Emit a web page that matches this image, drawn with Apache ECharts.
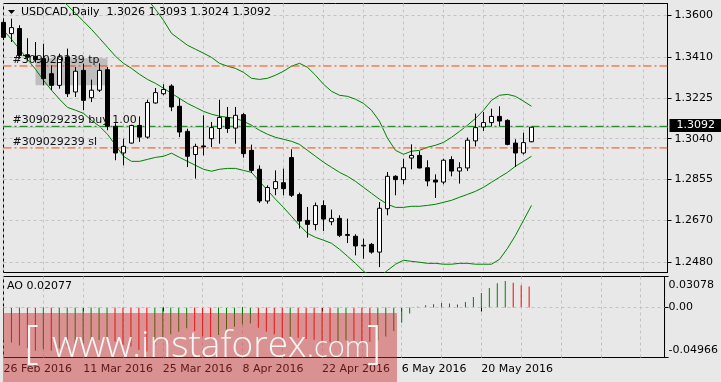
<!DOCTYPE html>
<html><head><meta charset="utf-8">
<script src="https://cdn.jsdelivr.net/npm/echarts@6/dist/echarts.min.js"></script>
<style>html,body{margin:0;padding:0;background:#e8e8e8;}#c{width:721px;height:382px;}</style>
</head><body><div id="c"></div>
<script>
const symbol = 'USDCAD', timeframe = 'Daily';
const dates = ['26 Feb 2016','29 Feb 2016','1 Mar 2016','2 Mar 2016','3 Mar 2016','4 Mar 2016','7 Mar 2016','8 Mar 2016','9 Mar 2016','10 Mar 2016',
'11 Mar 2016','14 Mar 2016','15 Mar 2016','16 Mar 2016','17 Mar 2016','18 Mar 2016','21 Mar 2016','22 Mar 2016','23 Mar 2016','24 Mar 2016',
'25 Mar 2016','28 Mar 2016','29 Mar 2016','30 Mar 2016','31 Mar 2016','1 Apr 2016','4 Apr 2016','5 Apr 2016','6 Apr 2016','7 Apr 2016',
'8 Apr 2016','11 Apr 2016','12 Apr 2016','13 Apr 2016','14 Apr 2016','15 Apr 2016','18 Apr 2016','19 Apr 2016','20 Apr 2016','21 Apr 2016',
'22 Apr 2016','25 Apr 2016','26 Apr 2016','27 Apr 2016','28 Apr 2016','29 Apr 2016','2 May 2016','3 May 2016','4 May 2016','5 May 2016',
'6 May 2016','9 May 2016','10 May 2016','11 May 2016','12 May 2016','13 May 2016','16 May 2016','17 May 2016','18 May 2016','19 May 2016',
'20 May 2016','23 May 2016','24 May 2016','25 May 2016','26 May 2016','27 May 2016','30 May 2016'];
// [open, close, low, high]
const candles = [
[1.3568,1.3500,1.3488,1.3585],[1.3517,1.3544,1.3479,1.3585],[1.3540,1.3418,1.3403,1.3555],[1.3421,1.3410,1.3396,1.3496],[1.3414,1.3399,1.3385,1.3479],
[1.3403,1.3313,1.3282,1.3471],[1.3335,1.3282,1.3260,1.3373],[1.3282,1.3411,1.3267,1.3426],[1.3411,1.3244,1.3229,1.3449],[1.3252,1.3346,1.3229,1.3365],
[1.3350,1.3214,1.3169,1.3381],[1.3226,1.3260,1.3206,1.3308],[1.3260,1.3350,1.3252,1.3382],[1.3353,1.3096,1.3078,1.3365],[1.3096,1.2975,1.2942,1.3110],
[1.2975,1.3005,1.2919,1.3040],[1.3020,1.3100,1.3018,1.3103],[1.3100,1.3047,1.3025,1.3141],[1.3047,1.3204,1.3040,1.3217],[1.3202,1.3249,1.3199,1.3270],
[1.3244,1.3263,1.3237,1.3287],[1.3279,1.3184,1.3165,1.3287],[1.3187,1.3070,1.3047,1.3222],[1.3073,1.2960,1.2911,1.3085],[1.2968,1.3005,1.2859,1.3017],
[1.3007,1.3003,1.2964,1.3146],[1.3040,1.3090,1.3002,1.3116],[1.3086,1.3136,1.3017,1.3217],[1.3136,1.3086,1.3066,1.3184],[1.3088,1.3146,1.3017,1.3184],
[1.3149,1.2972,1.2954,1.3156],[1.2987,1.2896,1.2884,1.3013],[1.2901,1.2757,1.2748,1.2919],[1.2757,1.2818,1.2745,1.2828],[1.2813,1.2845,1.2783,1.2896],
[1.2840,1.2813,1.2783,1.2904],[1.2954,1.2783,1.2775,1.2992],[1.2786,1.2666,1.2632,1.2795],[1.2669,1.2651,1.2591,1.2730],[1.2650,1.2736,1.2624,1.2750],
[1.2736,1.2675,1.2621,1.2760],[1.2663,1.2678,1.2647,1.2718],[1.2678,1.2601,1.2593,1.2692],[1.2605,1.2601,1.2566,1.2677],[1.2597,1.2553,1.2510,1.2606],
[1.2553,1.2556,1.2495,1.2586],[1.2560,1.2525,1.2518,1.2566],[1.2525,1.2724,1.2457,1.2752],[1.2722,1.2869,1.2692,1.2889],[1.2869,1.2854,1.2783,1.2874],
[1.2854,1.2908,1.2833,1.2949],[1.2952,1.2964,1.2901,1.3014],[1.2964,1.2907,1.2905,1.2983],[1.2908,1.2848,1.2824,1.2942],[1.2852,1.2843,1.2771,1.2878],
[1.2843,1.2942,1.2833,1.2949],[1.2945,1.2893,1.2869,1.2960],[1.2893,1.2908,1.2836,1.2933],[1.2907,1.3033,1.2893,1.3045],[1.3030,1.3090,1.3005,1.3154],
[1.3093,1.3113,1.3075,1.3161],[1.3113,1.3141,1.3096,1.3176],[1.3141,1.3120,1.3096,1.3187],[1.3123,1.3014,1.3010,1.3128],[1.3020,1.2975,1.2911,1.3037],
[1.2975,1.3022,1.2968,1.3067],[1.3026,1.3092,1.3024,1.3093]];
const upperBand = [1.4304,1.4272,1.4245,1.4227,1.4208,1.4195,1.4177,1.4145,1.4109,1.4050,
1.3990,1.3950,1.3895,1.3850,1.3818,1.3804,1.3782,1.3727,1.3673,1.3627,
1.3577,1.3518,1.3491,1.3464,1.3446,1.3428,1.3409,1.3382,1.3369,1.3359,
1.3341,1.3314,1.3309,1.3314,1.3328,1.3346,1.3369,1.3382,1.3364,1.3328,
1.3287,1.3255,1.3237,1.3232,1.3219,1.3200,1.3169,1.3119,1.3042,1.2987,
1.2969,1.2983,1.2987,1.3001,1.3010,1.3023,1.3046,1.3073,1.3101,1.3132,
1.3169,1.3214,1.3237,1.3241,1.3232,1.3210,1.3187];
const middleBand = [1.3918,1.3882,1.3845,1.3813,1.3782,1.3750,1.3718,1.3682,1.3645,1.3609,
1.3573,1.3536,1.3496,1.3455,1.3414,1.3382,1.3359,1.3332,1.3309,1.3291,
1.3269,1.3246,1.3223,1.3200,1.3182,1.3164,1.3151,1.3142,1.3137,1.3132,
1.3119,1.3101,1.3078,1.3060,1.3046,1.3037,1.3028,1.3014,1.2987,1.2960,
1.2933,1.2910,1.2887,1.2869,1.2846,1.2819,1.2792,1.2765,1.2742,1.2728,
1.2728,1.2733,1.2733,1.2737,1.2742,1.2751,1.2760,1.2774,1.2787,1.2801,
1.2819,1.2842,1.2865,1.2887,1.2915,1.2937,1.2960];
const lowerBand = [1.3532,1.3491,1.3446,1.3400,1.3355,1.3305,1.3260,1.3219,1.3182,1.3169,
1.3155,1.3123,1.3096,1.3060,1.3010,1.2960,1.2937,1.2937,1.2946,1.2955,
1.2960,1.2974,1.2955,1.2937,1.2919,1.2901,1.2892,1.2901,1.2905,1.2905,
1.2896,1.2887,1.2846,1.2806,1.2765,1.2728,1.2687,1.2647,1.2610,1.2592,
1.2579,1.2565,1.2538,1.2506,1.2474,1.2438,1.2415,1.2411,1.2442,1.2470,
1.2488,1.2483,1.2479,1.2474,1.2474,1.2470,1.2470,1.2474,1.2474,1.2470,
1.2470,1.2470,1.2492,1.2542,1.2601,1.2669,1.2737];
const ao = [-0.0322,-0.0348,-0.0378,-0.0404,-0.0430,-0.0413,-0.0430,-0.0404,-0.0388,-0.0370,
-0.0354,-0.0338,-0.0322,-0.0305,-0.0338,-0.0370,-0.0388,-0.0420,-0.0437,-0.0370,
-0.0305,-0.0266,-0.0240,-0.0207,-0.0233,-0.0289,-0.0312,-0.0273,-0.0217,-0.0190,
-0.0168,-0.0158,-0.0200,-0.0240,-0.0266,-0.0300,-0.0289,-0.0300,-0.0312,-0.0320,
-0.0330,-0.0345,-0.0338,-0.0325,-0.0328,-0.0335,-0.0340,-0.0329,-0.0289,-0.0233,
-0.0151,-0.0059,0.0008,0.0023,0.0033,0.0045,0.0040,0.0030,0.0055,0.0104,
0.0144,0.0193,0.0242,0.0262,0.0245,0.0222,0.02077];
const priceTicks = [1.3600,1.3410,1.3225,1.3040,1.2855,1.2670,1.2480];
const aoTicks = [0.03078,0,-0.04966];
const aoTickLabels = ['0.03078','0.00','-0.04966'];
const orderId = '#309029239';
const lots = '1.00';
const tpLevel = 1.3370, buyLevel = 1.3096, slLevel = 1.2998, bidLevel = 1.3092;
const boxFrom = 4, boxTo = 13, boxTop = 1.3405, boxBottom = 1.3282;
const watermark = ['[', 'www.instaforex', '.com', ']'];

// layout
const slotCount = 84;
const cats = dates.slice();
for (let i = dates.length; i < slotCount; i++) cats.push('slot' + i);
const FONT = 'DejaVu Sans';
const gridColor = '#c3c3c3';
const bandColor = '#008000';
const stopColor = '#ff4500';
const dashDot = [8, 3, 2, 3];
const last = candles[candles.length - 1];

// horizontal level: a line between the first and last slot of the axis at the level's price
function levelSeries(name, value, color, type, label) {
  const d = cats.map(() => null);
  d[0] = value; d[cats.length - 1] = value;
  return {
    type: 'line', name: name, xAxisIndex: 0, yAxisIndex: 0, data: d, connectNulls: true,
    symbol: 'none', silent: true, z: 3,
    lineStyle: {color: color, type: type, width: 1},
    markLine: {
      silent: true, symbol: ['none', 'none'], animation: false,
      lineStyle: {color: 'rgba(0,0,0,0)', width: 1, type: 'solid'},
      label: label,
      data: [{yAxis: value}]
    }
  };
}
const txtLabel = (t, dy) => ({show: true, position: 'insideStartTop', formatter: t, distance: [9, dy],
  color: '#111', fontFamily: FONT, fontSize: 11});

const chart = echarts.init(document.getElementById('c'), null, {renderer: 'canvas'});
const xBase = {
  type: 'category', data: cats, boundaryGap: false,
  axisLine: {show: false},
  splitLine: {show: true, interval: (i) => i % 5 === 0, lineStyle: {color: gridColor, type: [3, 3]}}
};
const option = {
  backgroundColor: '#e8e8e8',
  animation: false,
  grid: [
    {left: 3.5, right: 53.5, top: 3.5, height: 269, show: true, borderColor: '#000', borderWidth: 1, backgroundColor: 'transparent'},
    {left: 3.5, right: 53.5, top: 276.5, height: 81, show: true, borderColor: '#000', borderWidth: 1, backgroundColor: 'transparent'}
  ],
  xAxis: [
    Object.assign({}, xBase, {gridIndex: 0, axisTick: {show: false}, axisLabel: {show: false}}),
    Object.assign({}, xBase, {gridIndex: 1,
      axisTick: {show: true, interval: (i) => i % 10 === 0 && i < dates.length, length: 4, lineStyle: {color: '#000'}},
      axisLabel: {show: true, interval: (i) => i % 10 === 0 && i < dates.length, align: 'left', margin: 6,
        color: '#000', fontFamily: FONT, fontSize: 11}})
  ],
  yAxis: [
    {gridIndex: 0, type: 'value', position: 'right', min: 1.24324, max: 1.36536,
      axisLine: {show: true, lineStyle: {color: '#000'}},
      axisTick: {show: true, length: 4, customValues: priceTicks, lineStyle: {color: '#000'}},
      axisLabel: {customValues: priceTicks, formatter: (v) => v.toFixed(4), margin: 7, color: '#000', fontFamily: FONT, fontSize: 11},
      splitLine: {show: true, lineStyle: {color: gridColor, type: [3, 3]}}},
    {gridIndex: 1, type: 'value', position: 'right', min: -0.04966, max: 0.03078,
      axisLine: {show: true, lineStyle: {color: '#000'}},
      axisTick: {show: true, length: 4, customValues: aoTicks, lineStyle: {color: '#000'}},
      axisLabel: {customValues: aoTicks, margin: 4, color: '#000', fontFamily: FONT, fontSize: 11,
        formatter: (v) => {
          const k = aoTicks.findIndex(t => Math.abs(t - v) < 1e-9);
          const s = k >= 0 ? aoTickLabels[k] : String(v);
          return k === 0 ? '{t|' + s + '}' : (k === 2 ? '{b|' + s + '}' : s);
        },
        rich: {t: {padding: [17, 0, 0, 0], fontFamily: FONT, fontSize: 11, color: '#000'},
               b: {padding: [0, 0, 15, 0], fontFamily: FONT, fontSize: 11, color: '#000'}}},
      splitLine: {show: false}}
  ],
  series: [
    {type: 'line', name: 'upper', xAxisIndex: 0, yAxisIndex: 0, data: upperBand, symbol: 'none', silent: true,
      lineStyle: {color: bandColor, width: 1},
      markArea: {silent: true, itemStyle: {color: '#bebebe'},
        data: [[{xAxis: boxFrom, yAxis: boxTop}, {xAxis: boxTo, yAxis: boxBottom}]]}},
    {type: 'line', name: 'middle', xAxisIndex: 0, yAxisIndex: 0, data: middleBand, symbol: 'none', silent: true,
      lineStyle: {color: bandColor, width: 1}},
    {type: 'line', name: 'lower', xAxisIndex: 0, yAxisIndex: 0, data: lowerBand, symbol: 'none', silent: true,
      lineStyle: {color: bandColor, width: 1}},
    levelSeries('bid', bidLevel, '#bdbdbd', 'solid',
      {show: true, position: 'end', formatter: bidLevel.toFixed(4), distance: 2,
        backgroundColor: '#000', color: '#fff', padding: [1, 8, 0, 7], fontFamily: FONT, fontSize: 11, lineHeight: 12}),
    levelSeries('tp', tpLevel, stopColor, dashDot, txtLabel(orderId + ' tp', -6)),
    levelSeries('buy', buyLevel, bandColor, dashDot, txtLabel(orderId + ' buy ' + lots, 0)),
    levelSeries('sl', slLevel, stopColor, dashDot, txtLabel(orderId + ' sl', 0)),
    {type: 'candlestick', name: symbol, xAxisIndex: 0, yAxisIndex: 0, data: candles, barWidth: 4, silent: true, z: 4,
      itemStyle: {color: '#ffffff', color0: '#000000', borderColor: '#000000', borderColor0: '#000000', borderWidth: 1}},
    {type: 'bar', name: 'AO', xAxisIndex: 1, yAxisIndex: 1, data: ao, barWidth: 1, silent: true,
      itemStyle: {color: (p) => (p.dataIndex > 0 && ao[p.dataIndex] > ao[p.dataIndex - 1]) ? '#008000' : '#ff0000'},
      markLine: {silent: true, symbol: ['none', 'none'], animation: false, label: {show: false},
        lineStyle: {color: gridColor, type: [3, 3], width: 1},
        data: [{yAxis: 0}]}}
  ],
  graphic: [
    {type: 'polygon', shape: {points: [[8, 10], [15, 10], [11.5, 14]]}, style: {fill: '#000'}, z: 50},
    {type: 'text', left: 21, top: 7, z: 50, style: {
      text: symbol + ',' + timeframe + '  ' + [last[0], last[3], last[2], last[1]].map(v => v.toFixed(4)).join(' '),
      fill: '#000', font: '11px "DejaVu Sans"'}},
    {type: 'text', left: 7, top: 281, z: 50, style: {text: 'AO ' + ao[ao.length - 1].toFixed(5), fill: '#000', font: '11px "DejaVu Sans"'}},
    {type: 'rect', shape: {x: 3, y: 313, width: 394, height: 69}, style: {fill: 'rgba(200,47,47,0.47)'}, z: 100, silent: true},
    {type: 'text', z: 101, silent: true, style: {x: 24, y: 345, text: watermark[0], fill: '#f6f6f6', verticalAlign: 'middle', font: '300 46px "Open Sans"'}},
    {type: 'text', z: 101, silent: true, style: {x: 52, y: 346, text: watermark[1], fill: '#f6f6f6', verticalAlign: 'middle', font: '300 37px "Open Sans"'}},
    {type: 'text', z: 101, silent: true, style: {x: 307, y: 348.5, text: watermark[2], fill: '#f6f6f6', verticalAlign: 'middle', font: '300 29px "Open Sans"'}},
    {type: 'text', z: 101, silent: true, style: {x: 367, y: 345, text: watermark[3], fill: '#f6f6f6', verticalAlign: 'middle', font: '300 46px "Open Sans"'}}
  ]
};
chart.setOption(option);
</script></body></html>
